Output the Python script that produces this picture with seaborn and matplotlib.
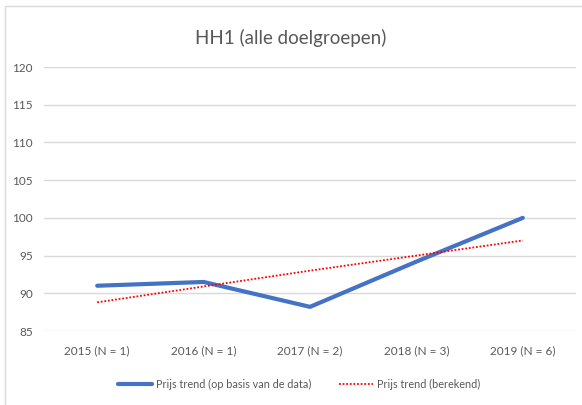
import matplotlib
matplotlib.use("Agg")
import matplotlib.pyplot as plt
from matplotlib.patches import Rectangle
import seaborn as sns
import pandas as pd

# values
jaren = ["2015 (N = 1)", "2016 (N = 1)", "2017 (N = 2)", "2018 (N = 3)", "2019 (N = 6)"]
prijs_data = [91.0, 91.5, 88.2, 94.2, 100.0]
prijs_berekend = [88.8, 90.9, 93.0, 95.0, 97.0]
y_ticks = [85, 90, 95, 100, 105, 110, 115, 120]

sns.set_theme(style="white")
plt.rcParams["font.family"] = ["Lato", "DejaVu Sans"]

W, H = 582, 405
fig = plt.figure(figsize=(W / 100, H / 100), dpi=100)
ax = fig.add_axes([44 / W, 1 - 331 / H, 532 / W, 264 / H])

df = pd.DataFrame({"jaar": jaren, "data": prijs_data, "berekend": prijs_berekend})

# gridlines first so the lines sit on top
for v in y_ticks:
    ax.axhline(v, color="#d9d9d9", lw=1, zorder=0)

sns.lineplot(data=df, x="jaar", y="berekend", ax=ax, color="#ff0000",
             lw=1.3, linestyle=(0, (1, 1)), sort=False,
             label="Prijs trend (berekend)", zorder=3)
sns.lineplot(data=df, x="jaar", y="data", ax=ax, color="#4472c4",
             lw=3, sort=False, solid_capstyle="round",
             label="Prijs trend (op basis van de data)", zorder=2)

ax.set_xlim(-0.5, len(jaren) - 0.5)
ax.set_ylim(85, 120)
ax.set_yticks(y_ticks)
ax.set_xlabel("")
ax.set_ylabel("")
for s in ax.spines.values():
    s.set_visible(False)
ax.tick_params(axis="both", length=0, labelsize=8.5, colors="#595959")
ax.tick_params(axis="y", pad=8)
ax.tick_params(axis="x", pad=10)

ax.get_legend().remove()
handles, labels = ax.get_legend_handles_labels()
order = [1, 0]
fig.legend([handles[i] for i in order], [labels[i] for i in order],
           loc="center", bbox_to_anchor=(299 / W, 1 - 384 / H), ncol=2,
           frameon=False, fontsize=7.8, handlelength=3.1, handletextpad=0.35,
           columnspacing=2.6, labelcolor="#595959")

fig.text(0.5, 1 - 38 / H, "HH1 (alle doelgroepen)", ha="center", va="center",
         fontsize=13.5, color="#595959")

# light outer chart border
fig.add_artist(Rectangle((5 / W, -0.05), 1.1, 1 - 6 / H + 0.05,
                         transform=fig.transFigure, fill=False,
                         edgecolor="#d9d9d9", lw=1))

fig.savefig("out.png", dpi=100, facecolor="white")
